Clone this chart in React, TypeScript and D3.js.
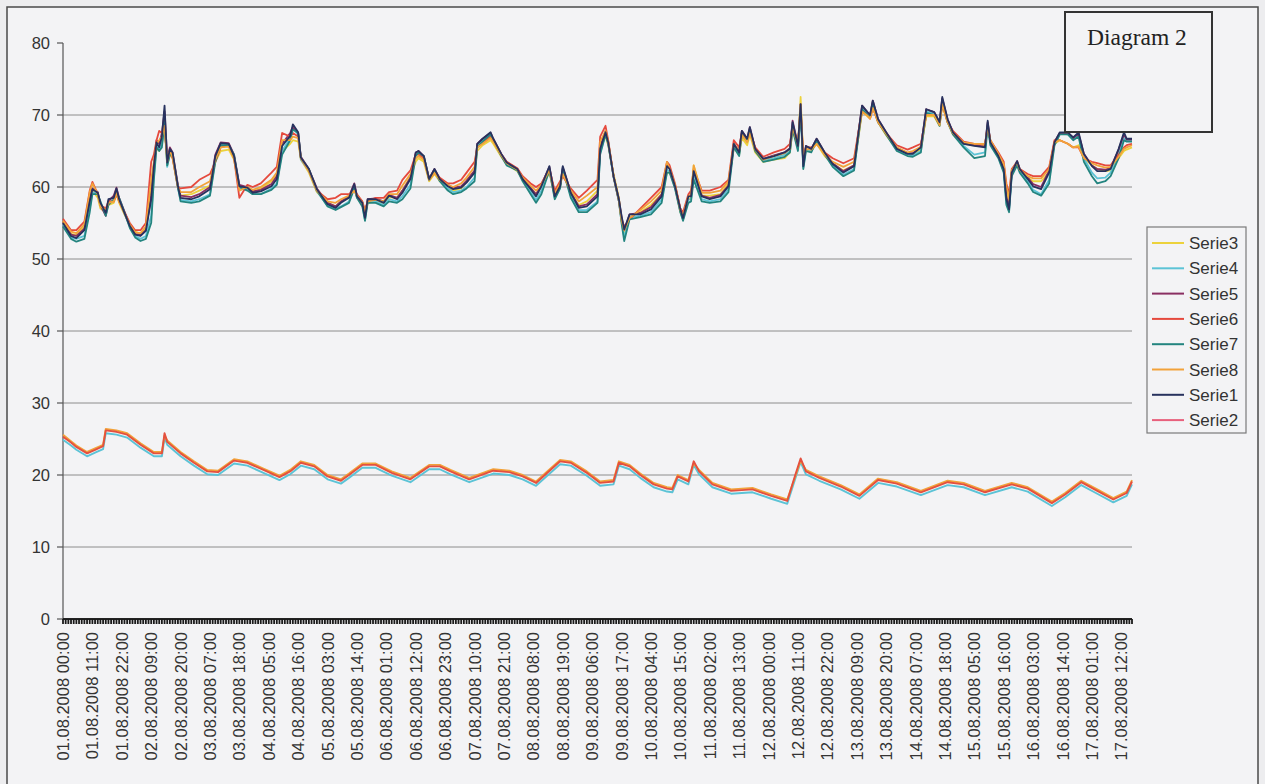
import * as d3 from 'd3';
import React, { ReactElement } from 'react';

const WIDTH = 1265;
const HEIGHT = 784;
const BG = '#f3f3f5';

// hours since 01.08.2008 00:00 for the humidity group (upper lines)
const U_HOURS = [
  0, 3, 5, 8, 10, 11, 13, 14, 16, 17,
  19, 20, 21, 23, 25, 27, 29, 31, 33, 34,
  35, 36, 37, 38, 39, 40, 41, 43, 44, 48,
  51, 55, 57, 59, 62, 64, 66, 69, 71, 74,
  78, 80, 82, 85, 86, 88, 89, 92, 95, 99,
  102, 104, 107, 109, 110, 112, 113, 114, 117, 120,
  122, 125, 127, 130, 132, 133, 135, 137, 139, 141,
  144, 146, 149, 151, 154, 155, 157, 160, 161, 164,
  166, 170, 172, 175, 177, 179, 182, 184, 186, 187,
  190, 193, 196, 200, 201, 203, 204, 206, 208, 209,
  210, 212, 216, 220, 224, 226, 227, 229, 231, 232,
  234, 235, 236, 239, 242, 246, 249, 251, 253, 254,
  256, 257, 259, 262, 266, 270, 272, 273, 275, 276,
  277, 278, 280, 282, 285, 288, 292, 296, 298, 299,
  301, 302, 303, 305, 308, 312, 316, 318, 321, 323,
  326, 328, 329, 331, 333, 337, 341, 345, 346, 347,
  350, 352, 353, 354, 355, 357, 358, 361, 363, 366,
  369, 371, 373, 376, 378, 380, 382, 385, 387, 390,
  392, 395, 397, 398, 400,
];

const SERIE3 = [
  55.2, 53.5, 53.3, 54.5, 58.5, 59.5, 58.5, 57.0, 56.5, 57.5,
  57.8, 59.0, 57.8, 56.2, 54.8, 53.8, 53.5, 54.3, 59.5, 62.5,
  65.5, 65.0, 66.0, 68.5, 63.0, 64.5, 64.0, 59.8, 58.8, 59.0,
  59.5, 60.2, 63.5, 65.0, 65.2, 63.8, 59.8, 59.8, 59.3, 59.8,
  60.8, 61.6, 65.0, 66.0, 66.5, 66.3, 63.8, 62.0, 59.3, 57.8,
  57.3, 58.0, 58.5, 59.8, 58.5, 57.5, 56.0, 57.8, 58.0, 57.8,
  58.6, 58.5, 59.5, 61.5, 63.5, 64.0, 63.5, 60.8, 61.8, 60.8,
  59.8, 59.5, 59.8, 60.8, 62.2, 65.0, 65.8, 66.5, 66.0, 64.2,
  63.2, 62.2, 61.0, 59.8, 59.0, 60.0, 62.0, 58.8, 60.0, 62.0,
  59.0, 57.5, 58.0, 59.5, 65.5, 67.0, 65.8, 61.8, 58.5, 55.3,
  53.5, 55.8, 56.5, 57.5, 59.0, 62.0, 62.0, 60.3, 56.5, 55.5,
  58.3, 58.5, 63.0, 58.8, 58.8, 59.0, 60.5, 65.5, 64.5, 66.8,
  65.8, 67.3, 64.8, 63.5, 63.8, 64.0, 64.8, 68.0, 65.5, 72.5,
  63.8, 65.0, 65.0, 66.0, 64.3, 63.2, 62.3, 63.0, 67.8, 70.5,
  69.8, 69.5, 71.0, 69.0, 67.2, 65.3, 64.5, 64.5, 65.2, 69.8,
  69.8, 68.5, 71.3, 69.0, 67.3, 66.0, 65.8, 65.8, 68.0, 66.5,
  64.5, 63.0, 59.5, 58.0, 62.0, 63.2, 62.3, 61.3, 60.8, 60.8,
  62.0, 66.0, 66.5, 66.0, 65.5, 65.8, 64.0, 63.0, 62.5, 62.2,
  62.3, 64.0, 65.0, 65.2, 65.5,
];

const SERIE4 = [
  54.8, 53.0, 52.8, 53.2, 57.0, 59.3, 59.0, 57.5, 56.2, 57.8,
  58.2, 59.5, 58.2, 56.3, 54.5, 53.2, 52.8, 53.2, 56.0, 61.5,
  65.8, 65.2, 66.0, 69.5, 62.8, 64.8, 64.3, 59.8, 58.2, 58.0,
  58.3, 59.0, 63.8, 65.8, 65.7, 64.2, 59.8, 59.6, 59.0, 59.0,
  59.8, 60.5, 65.0, 66.8, 68.2, 67.3, 63.8, 62.3, 59.4, 57.4,
  57.0, 57.3, 58.0, 60.0, 58.5, 57.5, 55.4, 58.0, 58.0, 57.5,
  58.3, 58.0, 58.7, 60.3, 64.5, 64.8, 64.0, 61.0, 62.3, 60.9,
  59.8, 59.3, 59.5, 60.0, 61.3, 65.8, 66.5, 67.3, 66.5, 64.4,
  63.2, 62.3, 61.0, 59.3, 58.2, 59.5, 62.5, 58.5, 59.9, 62.7,
  58.8, 56.8, 56.8, 58.0, 64.8, 67.3, 66.0, 61.3, 58.0, 55.3,
  53.0, 55.8, 56.0, 56.5, 58.2, 62.4, 62.2, 59.9, 56.6, 55.5,
  58.2, 58.3, 61.5, 58.3, 58.0, 58.3, 59.7, 65.7, 64.5, 67.4,
  66.5, 68.0, 65.2, 63.7, 64.0, 64.5, 65.0, 68.5, 65.3, 71.0,
  62.7, 65.3, 65.0, 66.5, 64.6, 63.0, 61.7, 62.5, 68.2, 71.0,
  70.2, 69.8, 71.8, 69.2, 67.4, 65.2, 64.5, 64.4, 65.0, 70.5,
  70.2, 68.7, 72.0, 69.2, 67.4, 65.7, 64.5, 64.8, 68.8, 66.0,
  64.2, 62.2, 57.8, 56.7, 61.8, 63.3, 62.2, 60.8, 59.6, 59.0,
  61.0, 66.0, 67.4, 67.3, 66.6, 67.2, 64.0, 62.0, 61.2, 61.3,
  62.0, 64.6, 66.8, 66.5, 66.5,
];

const SERIE5 = [
  55.2, 53.4, 53.2, 54.2, 58.3, 59.8, 59.3, 57.5, 56.0, 58.0,
  58.8, 59.9, 58.5, 56.6, 54.7, 53.5, 53.3, 54.0, 58.8, 63.0,
  66.5, 66.0, 67.5, 70.5, 64.0, 65.5, 64.8, 60.3, 58.8, 58.6,
  59.0, 60.0, 64.5, 66.2, 66.1, 64.5, 60.3, 60.0, 59.4, 59.6,
  60.4, 61.5, 66.0, 67.5, 68.3, 67.5, 64.2, 62.5, 59.8, 57.8,
  57.3, 58.0, 58.7, 60.5, 58.8, 57.9, 55.9, 58.3, 58.4, 58.0,
  58.9, 58.5, 59.5, 61.3, 64.8, 65.0, 64.3, 61.2, 62.5, 61.2,
  60.3, 59.9, 60.1, 60.9, 62.3, 66.0, 66.7, 67.5, 66.7, 64.6,
  63.5, 62.5, 61.3, 59.9, 59.0, 60.3, 62.8, 58.9, 60.2, 62.7,
  59.3, 57.3, 57.6, 59.0, 65.5, 67.8, 66.3, 61.5, 58.3, 55.8,
  54.0, 56.2, 56.4, 57.2, 59.0, 63.0, 62.6, 60.2, 57.0, 55.9,
  58.8, 58.8, 62.3, 58.8, 58.5, 58.9, 60.2, 66.0, 64.9, 67.8,
  66.7, 68.3, 65.3, 63.9, 64.4, 64.8, 65.4, 69.2, 65.8, 71.5,
  63.2, 65.7, 65.3, 66.7, 64.8, 63.3, 62.2, 63.0, 68.6, 71.3,
  70.4, 70.0, 72.0, 69.4, 67.6, 65.4, 64.7, 64.7, 65.6, 70.8,
  70.4, 69.0, 72.3, 69.4, 67.6, 66.1, 65.8, 65.6, 69.0, 66.3,
  64.4, 62.6, 58.6, 57.2, 62.1, 63.6, 62.5, 61.3, 60.4, 60.0,
  62.3, 66.3, 67.5, 67.5, 66.8, 67.4, 64.6, 63.0, 62.5, 62.4,
  62.7, 65.2, 67.3, 66.6, 66.6,
];

const SERIE6 = [
  55.6, 54.0, 54.0, 55.2, 59.5, 60.7, 59.0, 57.5, 57.0, 58.0,
  58.0, 59.0, 58.0, 56.5, 55.0, 54.0, 54.0, 55.0, 63.5, 64.5,
  66.5, 67.8, 67.5, 68.0, 64.0, 65.0, 64.0, 60.0, 59.8, 60.0,
  61.0, 61.8, 63.5, 65.5, 65.8, 64.0, 58.5, 60.3, 60.0, 60.5,
  62.0, 62.8, 67.5, 67.0, 67.5, 67.0, 64.0, 62.3, 59.5, 58.3,
  58.5, 59.0, 59.0, 59.5, 59.0, 58.0, 56.8, 58.0, 58.5, 58.5,
  59.3, 59.5, 61.0, 62.3, 64.5, 64.5, 64.0, 61.0, 62.0, 61.3,
  60.5, 60.5, 61.0, 62.0, 63.5, 65.5, 66.2, 67.0, 66.5, 64.5,
  63.5, 62.6, 61.5, 60.5, 60.0, 60.5, 62.5, 59.5, 60.8, 61.5,
  59.8, 58.5, 59.5, 61.0, 67.0, 68.5, 66.5, 61.5, 58.0, 55.5,
  54.5, 55.5, 57.0, 58.5, 60.0, 63.5, 63.0, 60.5, 57.0, 56.5,
  59.0, 59.5, 62.5, 59.5, 59.5, 60.0, 61.0, 66.5, 65.5, 67.5,
  66.5, 67.8, 65.5, 64.2, 64.8, 65.3, 66.0, 68.5, 66.0, 70.5,
  64.5, 65.5, 65.5, 66.0, 64.8, 64.0, 63.3, 64.0, 68.5, 70.5,
  70.0, 69.5, 71.0, 69.0, 67.5, 65.8, 65.2, 65.5, 66.0, 70.0,
  70.0, 68.8, 71.5, 69.0, 67.8, 66.3, 66.0, 66.0, 68.5, 66.5,
  64.8, 63.5, 60.5, 59.0, 62.5, 63.5, 62.5, 61.8, 61.5, 61.5,
  62.8, 66.5, 66.5, 66.0, 65.5, 65.5, 64.0, 63.5, 63.3, 63.0,
  63.0, 64.5, 65.5, 65.8, 66.0,
];

const SERIE7 = [
  54.5, 52.8, 52.4, 52.8, 56.5, 59.0, 59.0, 58.0, 56.0, 57.5,
  58.3, 59.3, 58.5, 56.5, 54.3, 53.0, 52.5, 52.8, 55.0, 61.0,
  65.5, 65.0, 65.5, 69.0, 63.0, 64.5, 64.5, 60.0, 58.0, 57.8,
  58.0, 58.8, 63.5, 65.8, 65.8, 64.5, 60.0, 59.5, 59.0, 59.0,
  59.6, 60.3, 64.5, 66.5, 68.0, 67.5, 64.0, 62.5, 59.5, 57.3,
  56.8, 57.2, 57.8, 59.8, 58.5, 57.3, 55.3, 57.8, 57.8, 57.3,
  58.0, 57.8, 58.3, 59.8, 64.3, 64.8, 64.3, 61.0, 62.3, 60.8,
  59.5, 59.0, 59.3, 59.8, 60.8, 65.5, 66.3, 67.3, 66.5, 64.3,
  63.0, 62.3, 60.8, 59.0, 57.8, 59.0, 62.3, 58.3, 59.8, 62.5,
  58.5, 56.5, 56.5, 57.8, 64.5, 67.3, 66.0, 61.5, 58.0, 55.0,
  52.5, 55.5, 55.8, 56.2, 57.8, 62.0, 62.0, 59.8, 56.5, 55.3,
  57.8, 58.0, 61.0, 58.0, 57.8, 58.0, 59.3, 65.5, 64.3, 67.3,
  66.3, 68.0, 65.0, 63.5, 63.8, 64.2, 64.8, 68.0, 65.0, 70.5,
  62.5, 65.0, 64.8, 66.5, 64.5, 62.8, 61.5, 62.3, 68.0, 70.8,
  70.0, 69.8, 71.5, 69.0, 67.3, 65.0, 64.3, 64.2, 64.8, 70.3,
  70.0, 68.5, 72.0, 69.0, 67.3, 65.5, 64.0, 64.3, 68.5, 65.8,
  64.0, 62.0, 57.5, 56.5, 61.5, 63.0, 62.0, 60.5, 59.3, 58.8,
  60.5, 65.8, 67.3, 67.3, 66.5, 67.0, 63.5, 61.5, 60.5, 60.8,
  61.5, 64.0, 66.5, 66.3, 66.3,
];

const SERIE8 = [
  55.3, 53.8, 53.6, 54.8, 59.3, 60.5, 59.0, 57.3, 56.8, 57.8,
  58.0, 59.2, 58.0, 56.3, 54.8, 53.7, 53.6, 54.5, 61.0, 63.5,
  66.0, 66.5, 67.0, 68.5, 63.5, 65.0, 64.2, 60.0, 59.3, 59.3,
  60.0, 60.8, 63.8, 65.5, 65.6, 64.0, 59.5, 60.0, 59.6, 60.0,
  61.0, 62.0, 66.5, 66.5, 67.0, 66.8, 64.0, 62.3, 59.5, 58.0,
  57.8, 58.3, 58.8, 59.5, 58.8, 57.8, 56.5, 58.0, 58.2, 58.0,
  59.0, 59.0, 60.2, 61.8, 64.0, 64.3, 63.8, 61.0, 62.0, 61.0,
  60.3, 60.0, 60.5, 61.3, 62.8, 65.5, 66.0, 66.8, 66.3, 64.4,
  63.3, 62.4, 61.3, 60.2, 59.5, 60.3, 62.3, 59.0, 60.5, 61.8,
  59.5, 58.0, 58.8, 60.0, 66.3, 67.8, 66.3, 61.6, 58.2, 55.4,
  54.0, 55.7, 56.8, 58.0, 59.5, 63.5, 62.5, 60.3, 56.8, 56.0,
  58.7, 59.0, 63.0, 59.2, 59.2, 59.5, 60.8, 66.0, 65.0, 67.2,
  66.2, 67.5, 65.2, 63.8, 64.3, 64.7, 65.3, 68.3, 65.8, 71.5,
  64.0, 65.3, 65.2, 66.0, 64.5, 63.5, 62.8, 63.5, 68.2, 70.5,
  69.9, 69.5, 71.0, 69.0, 67.4, 65.5, 64.8, 65.0, 65.6, 70.0,
  70.0, 68.6, 71.5, 69.0, 67.5, 66.2, 66.0, 66.0, 68.3, 66.5,
  64.6, 63.2, 60.0, 58.5, 62.3, 63.4, 62.4, 61.5, 61.2, 61.2,
  62.5, 66.2, 66.5, 66.0, 65.5, 65.6, 64.0, 63.3, 63.0, 62.7,
  62.8, 64.2, 65.3, 65.5, 65.8,
];

const SERIE1 = [
  55.0, 53.2, 52.9, 54.0, 58.0, 59.7, 59.2, 57.8, 56.4, 58.3,
  58.5, 59.8, 58.3, 56.4, 54.6, 53.4, 53.2, 53.9, 58.3, 62.9,
  66.2, 65.5, 67.0, 71.3, 63.4, 65.3, 64.8, 60.1, 58.5, 58.3,
  58.7, 59.7, 64.3, 66.1, 66.0, 64.3, 60.1, 59.9, 59.2, 59.4,
  60.1, 61.1, 65.7, 67.1, 68.7, 67.6, 64.1, 62.5, 59.7, 57.6,
  57.1, 57.8, 58.5, 60.4, 58.7, 57.8, 55.7, 58.3, 58.3, 57.8,
  58.8, 58.3, 59.2, 61.1, 64.8, 65.0, 64.3, 61.1, 62.5, 61.1,
  60.1, 59.7, 59.9, 60.6, 62.0, 66.0, 66.7, 67.6, 66.7, 64.6,
  63.4, 62.5, 61.1, 59.7, 58.7, 60.1, 62.9, 58.7, 60.1, 62.9,
  59.2, 57.1, 57.3, 58.7, 65.3, 67.6, 66.2, 61.5, 58.3, 56.0,
  54.1, 56.2, 56.2, 56.9, 58.7, 62.9, 62.5, 60.1, 56.9, 55.7,
  58.7, 58.7, 62.2, 58.7, 58.3, 58.7, 60.1, 66.0, 64.8, 67.8,
  66.7, 68.3, 65.3, 63.9, 64.3, 64.8, 65.3, 69.0, 65.7, 71.5,
  62.9, 65.7, 65.3, 66.7, 64.8, 63.2, 62.0, 62.9, 68.5, 71.3,
  70.4, 70.0, 72.0, 69.4, 67.6, 65.3, 64.6, 64.6, 65.5, 70.8,
  70.4, 69.0, 72.5, 69.4, 67.6, 66.0, 65.7, 65.5, 69.2, 66.2,
  64.3, 62.5, 58.3, 56.9, 62.0, 63.6, 62.5, 61.1, 60.1, 59.7,
  62.0, 66.2, 67.6, 67.6, 66.9, 67.6, 64.6, 62.9, 62.2, 62.2,
  62.5, 65.3, 67.6, 66.7, 66.7,
];

// temperature group (lower lines)
const L_HOURS = [
  0, 3, 5, 9, 12, 15, 16, 20, 24, 29,
  34, 37, 38, 39, 44, 49, 54, 58, 64, 69,
  75, 81, 85, 89, 94, 99, 104, 107, 112, 117,
  123, 130, 137, 141, 145, 152, 161, 167, 172, 177,
  186, 190, 196, 201, 206, 208, 212, 216, 221, 226,
  228, 230, 234, 236, 238, 243, 250, 258, 265, 271,
  274, 276, 278, 283, 291, 298, 305, 312, 321, 331,
  337, 345, 355, 361, 370, 375, 381, 387, 393, 398,
  400,
];

const LOW_CYAN = [
  24.9, 24.1, 23.5, 22.6, 23.1, 23.6, 25.8, 25.6, 25.2, 23.8,
  22.6, 22.6, 25.2, 24.2, 22.6, 21.3, 20.1, 20.0, 21.6, 21.3,
  20.3, 19.3, 20.1, 21.3, 20.8, 19.4, 18.8, 19.6, 21.0, 21.0,
  19.9, 19.0, 20.8, 20.8, 20.1, 19.0, 20.2, 20.0, 19.4, 18.5,
  21.5, 21.3, 19.9, 18.5, 18.7, 21.3, 20.8, 19.6, 18.3, 17.7,
  17.6, 19.4, 18.7, 21.4, 20.1, 18.3, 17.4, 17.6, 16.7, 16.0,
  19.5, 21.8, 20.1, 19.2, 18.0, 16.7, 18.9, 18.4, 17.2, 18.6,
  18.3, 17.2, 18.3, 17.7, 15.7, 16.9, 18.6, 17.4, 16.2, 17.1,
  18.7,
];

const SERIE2 = [
  25.3, 24.5, 23.9, 23.0, 23.5, 24.0, 26.2, 26.0, 25.6, 24.2,
  23.0, 23.0, 25.8, 24.6, 23.0, 21.7, 20.5, 20.4, 22.0, 21.7,
  20.7, 19.7, 20.5, 21.7, 21.2, 19.8, 19.2, 20.0, 21.4, 21.4,
  20.3, 19.4, 21.2, 21.2, 20.5, 19.4, 20.6, 20.4, 19.8, 18.9,
  21.9, 21.7, 20.3, 18.9, 19.1, 21.7, 21.2, 20.0, 18.7, 18.1,
  18.0, 19.8, 19.1, 21.9, 20.5, 18.7, 17.8, 18.0, 17.1, 16.4,
  20.0, 22.3, 20.5, 19.6, 18.4, 17.1, 19.3, 18.8, 17.6, 19.0,
  18.7, 17.6, 18.7, 18.1, 16.1, 17.3, 19.0, 17.8, 16.6, 17.5,
  19.1,
];

const LOW_ORANGE = [
  25.6, 24.7, 24.1, 23.2, 23.7, 24.2, 26.4, 26.2, 25.8, 24.4,
  23.2, 23.2, 25.5, 24.8, 23.2, 21.9, 20.7, 20.6, 22.2, 21.9,
  20.9, 19.9, 20.7, 21.9, 21.4, 20.0, 19.4, 20.2, 21.6, 21.6,
  20.5, 19.6, 21.4, 21.4, 20.7, 19.6, 20.8, 20.6, 20.0, 19.1,
  22.1, 21.9, 20.5, 19.1, 19.3, 21.9, 21.4, 20.2, 18.9, 18.3,
  18.2, 20.0, 19.3, 21.6, 20.7, 18.9, 18.0, 18.2, 17.3, 16.6,
  19.8, 22.0, 20.7, 19.8, 18.6, 17.3, 19.5, 19.0, 17.8, 19.2,
  18.9, 17.8, 18.9, 18.3, 16.3, 17.5, 19.2, 18.0, 16.8, 17.7,
  19.3,
];

const Y_TICKS = [0, 10, 20, 30, 40, 50, 60, 70, 80];
const LABEL_STEP = 11;
const X_LABELS = [
  '01.08.2008 00:00', '01.08.2008 11:00', '01.08.2008 22:00', '02.08.2008 09:00',
  '02.08.2008 20:00', '03.08.2008 07:00', '03.08.2008 18:00', '04.08.2008 05:00',
  '04.08.2008 16:00', '05.08.2008 03:00', '05.08.2008 14:00', '06.08.2008 01:00',
  '06.08.2008 12:00', '06.08.2008 23:00', '07.08.2008 10:00', '07.08.2008 21:00',
  '08.08.2008 08:00', '08.08.2008 19:00', '09.08.2008 06:00', '09.08.2008 17:00',
  '10.08.2008 04:00', '10.08.2008 15:00', '11.08.2008 02:00', '11.08.2008 13:00',
  '12.08.2008 00:00', '12.08.2008 11:00', '12.08.2008 22:00', '13.08.2008 09:00',
  '13.08.2008 20:00', '14.08.2008 07:00', '14.08.2008 18:00', '15.08.2008 05:00',
  '15.08.2008 16:00', '16.08.2008 03:00', '16.08.2008 14:00', '17.08.2008 01:00',
  '17.08.2008 12:00',
];

const COLORS: Record<string, string> = {
  Serie3: '#ecd23c',
  Serie4: '#5cc3d6',
  Serie5: '#8a2f62',
  Serie6: '#e5493d',
  Serie7: '#23847f',
  Serie8: '#f2a23a',
  Serie1: '#27325e',
  Serie2: '#e8607c',
};
const LEGEND = ['Serie3', 'Serie4', 'Serie5', 'Serie6', 'Serie7', 'Serie8', 'Serie1', 'Serie2'];

const upper = [
  { name: 'Serie3', values: SERIE3 },
  { name: 'Serie4', values: SERIE4 },
  { name: 'Serie5', values: SERIE5 },
  { name: 'Serie6', values: SERIE6 },
  { name: 'Serie7', values: SERIE7 },
  { name: 'Serie8', values: SERIE8 },
  { name: 'Serie1', values: SERIE1 },
];
const lower = [
  { color: COLORS.Serie4, values: LOW_CYAN },
  { color: COLORS.Serie8, values: LOW_ORANGE },
  { color: '#e4503f', values: SERIE2 },
];

const FONT = '"Liberation Sans", Arial, sans-serif';

const App = (): ReactElement => {
  const x = d3.scaleLinear().domain([0, 400]).range([63, 1132]);
  const y = d3.scaleLinear().domain([0, 80]).range([619, 43]);
  const line = d3
    .line<[number, number]>()
    .x((d) => x(d[0]))
    .y((d) => y(d[1]));

  const hourTicks = d3.range(0, 401);

  return (
    <svg
      width={WIDTH}
      height={HEIGHT}
      style={{ position: 'absolute', left: 0, top: 0 }}
      fontFamily={FONT}
    >
      <rect width={WIDTH} height={HEIGHT} fill="#ededef" />
      <rect x={7} y={7} width={1251} height={800} fill={BG} stroke="#4a4a4a" strokeWidth={1.5} />

      {/* gridlines */}
      {Y_TICKS.filter((t) => t > 0 && t < 80).map((t) => (
        <line key={t} x1={x(0)} x2={x(400)} y1={y(t)} y2={y(t)} stroke="#8c8c8c" strokeWidth={1} />
      ))}

      {/* y axis */}
      <line x1={x(0)} x2={x(0)} y1={y(80)} y2={y(0)} stroke="#555" strokeWidth={1.2} />
      {Y_TICKS.map((t) => (
        <g key={t}>
          <line x1={x(0) - 6} x2={x(0)} y1={y(t)} y2={y(t)} stroke="#555" strokeWidth={1.2} />
          <text x={50} y={y(t)} dy="0.36em" textAnchor="end" fontSize={16.5} fill="#333">
            {t}
          </text>
        </g>
      ))}

      {/* lower group */}
      {lower.map((s, i) => (
        <path
          key={'l' + i}
          d={line(d3.zip(L_HOURS, s.values) as [number, number][]) || ''}
          fill="none"
          stroke={s.color}
          strokeWidth={1.9}
          strokeLinejoin="round"
        />
      ))}

      {/* upper group */}
      {upper.map((s) => (
        <path
          key={s.name}
          d={line(d3.zip(U_HOURS, s.values) as [number, number][]) || ''}
          fill="none"
          stroke={COLORS[s.name]}
          strokeWidth={1.8}
          strokeLinejoin="round"
        />
      ))}

      {/* x axis with a tick per hour */}
      <line x1={x(0)} x2={x(400)} y1={y(0)} y2={y(0)} stroke="#222" strokeWidth={2} />
      {hourTicks.map((h) => (
        <line key={h} x1={x(h)} x2={x(h)} y1={y(0)} y2={y(0) + 5} stroke="#1a1a1a" strokeWidth={1.8} />
      ))}
      {X_LABELS.map((lab, i) => (
        <text
          key={lab}
          transform={`translate(${x(i * LABEL_STEP) + 6}, 632) rotate(-90)`}
          textAnchor="end"
          fontSize={16.5}
          fill="#333"
        >
          {lab}
        </text>
      ))}

      {/* title box */}
      <rect x={1065} y={12} width={147} height={120} fill={BG} stroke="#333" strokeWidth={2} />
      <text x={1087} y={45} fontSize={23.5} fontFamily='"Liberation Serif", "Times New Roman", serif' fill="#222">
        Diagram 2
      </text>

      {/* legend */}
      <rect x={1147} y={227} width={99} height={206} fill={BG} stroke="#7a7a7a" strokeWidth={1.2} />
      {LEGEND.map((name, i) => {
        const ly = 243 + i * 25.3;
        return (
          <g key={name}>
            <line x1={1152} x2={1184} y1={ly} y2={ly} stroke={COLORS[name]} strokeWidth={2} />
            <text x={1189} y={ly} dy="0.36em" fontSize={17} fill="#333">
              {name}
            </text>
          </g>
        );
      })}
    </svg>
  );
};

export default App;
